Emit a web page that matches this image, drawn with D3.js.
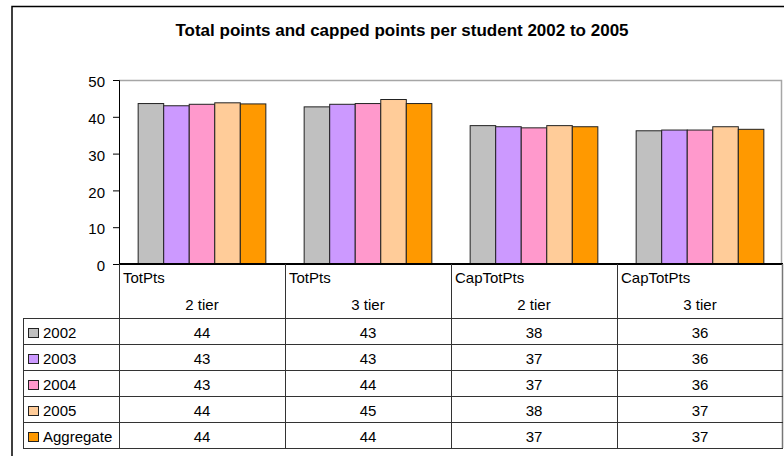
<!DOCTYPE html>
<html>
<head>
<meta charset="utf-8">
<script src="https://cdn.jsdelivr.net/npm/d3@7"></script>
<style>
  body { margin: 0; background: #fff; }
  svg { display: block; font-family: "Liberation Sans", Arial, sans-serif; }
</style>
</head>
<body>
<svg width="784" height="456"></svg>
<script>
const title = 'Total points and capped points per student 2002 to 2005';
const measures = ['TotPts', 'TotPts', 'CapTotPts', 'CapTotPts'];
const tiers = ['2 tier', '3 tier', '2 tier', '3 tier'];
const series = ['2002', '2003', '2004', '2005', 'Aggregate'];
const colors = ['#c0c0c0', '#cc99ff', '#ff99cc', '#ffcc99', '#ff9900'];
// bar heights
const v2002 = [43.6, 42.7, 37.6, 36.2];
const v2003 = [43.0, 43.4, 37.3, 36.4];
const v2004 = [43.4, 43.6, 37.0, 36.4];
const v2005 = [43.8, 44.7, 37.6, 37.3];
const vAgg = [43.5, 43.6, 37.3, 36.6];
// rounded values printed in the data table
const t2002 = [44, 43, 38, 36];
const t2003 = [43, 43, 37, 36];
const t2004 = [43, 44, 37, 36];
const t2005 = [44, 45, 38, 37];
const tAgg = [44, 44, 37, 37];
const yTicks = [0, 10, 20, 30, 40, 50];

const values = [v2002, v2003, v2004, v2005, vAgg];
const tableVals = [t2002, t2003, t2004, t2005, tAgg];
const cats = measures.map((m, i) => i);

const svg = d3.select('svg');
const pLeft = 119, pRight = 783, pTop = 80, pBottom = 264;

// outer frame
svg.append('rect')
  .attr('x', 12).attr('y', 6.5)
  .attr('width', 800).attr('height', 500)
  .attr('fill', 'none').attr('stroke', '#000').attr('stroke-width', 1.5);

svg.append('text')
  .attr('x', 402).attr('y', 36)
  .attr('text-anchor', 'middle')
  .attr('font-weight', 'bold').attr('font-size', 17)
  .text(title);

const x0 = d3.scaleBand().domain(cats).range([pLeft, pRight]);
const barW = x0.bandwidth() / (series.length + 1.5);
const x1 = d3.scaleBand().domain(series)
  .range([barW * 0.75, x0.bandwidth() - barW * 0.75]);
const y = d3.scaleLinear().domain([0, 50]).range([pBottom, pTop]);

// plot area border (top and right)
svg.append('path')
  .attr('d', `M${pLeft},${pTop + 0.5}H${pRight - 1.5}V${pBottom}`)
  .attr('fill', 'none').attr('stroke', '#a6a6a6').attr('stroke-width', 1.5);

const g = svg.append('g');
series.forEach((s, si) => {
  g.selectAll('.b' + si)
    .data(values[si])
    .enter().append('rect')
    .attr('x', (d, i) => x0(i) + x1(s))
    .attr('y', d => y(d))
    .attr('width', x1.bandwidth())
    .attr('height', d => pBottom - y(d))
    .attr('fill', colors[si])
    .attr('stroke', '#222').attr('stroke-width', 1);
});

const axis = svg.append('g')
  .attr('transform', `translate(${pLeft},0)`)
  .call(d3.axisLeft(y).tickValues(yTicks).tickSize(6).tickPadding(8));
axis.selectAll('text').attr('font-size', 15).attr('fill', '#000')
  .attr('font-family', '"Liberation Sans", Arial, sans-serif').attr('dy', '0.45em');
axis.select('.domain').attr('stroke', '#000');
axis.selectAll('.tick line').attr('stroke', '#000');

// zero line
svg.append('line')
  .attr('x1', pLeft).attr('x2', pRight).attr('y1', pBottom).attr('y2', pBottom)
  .attr('stroke', '#000').attr('stroke-width', 2);

// data table
const tLeft = 23, rowTop = 318, rowH = 26;
const rowY = d3.range(series.length + 1).map(i => rowTop + i * rowH);
const tBottom = rowY[series.length];

const tbl = svg.append('g').attr('stroke', '#333').attr('stroke-width', 1);
cats.forEach(i => {
  tbl.append('line')
    .attr('x1', x0(i) + 0.5).attr('x2', x0(i) + 0.5)
    .attr('y1', pBottom).attr('y2', tBottom);
});
tbl.append('line')
  .attr('x1', pRight - 0.5).attr('x2', pRight - 0.5)
  .attr('y1', pBottom).attr('y2', tBottom).attr('stroke', '#777').attr('stroke-width', 1.5);
tbl.append('line')
  .attr('x1', tLeft + 0.5).attr('x2', tLeft + 0.5)
  .attr('y1', rowTop).attr('y2', tBottom);
rowY.forEach(yy => {
  tbl.append('line')
    .attr('x1', tLeft).attr('x2', pRight)
    .attr('y1', yy + 0.5).attr('y2', yy + 0.5);
});

const txt = svg.append('g').attr('font-size', 15).attr('fill', '#000');
cats.forEach(i => {
  txt.append('text').attr('x', x0(i) + 4).attr('y', 283).text(measures[i]);
  txt.append('text').attr('x', x0(i) + x0.bandwidth() / 2).attr('y', 310)
    .attr('text-anchor', 'middle').text(tiers[i]);
});
series.forEach((s, si) => {
  const ry = rowY[si];
  svg.append('rect')
    .attr('x', 28.5).attr('y', ry + 10.5)
    .attr('width', 10).attr('height', 9)
    .attr('fill', colors[si]).attr('stroke', '#222').attr('stroke-width', 1);
  txt.append('text').attr('x', 43).attr('y', ry + 20).text(s);
  tableVals[si].forEach((v, i) => {
    txt.append('text')
      .attr('x', x0(i) + x0.bandwidth() / 2).attr('y', ry + 20)
      .attr('text-anchor', 'middle').text(v);
  });
});
</script>
</body>
</html>
